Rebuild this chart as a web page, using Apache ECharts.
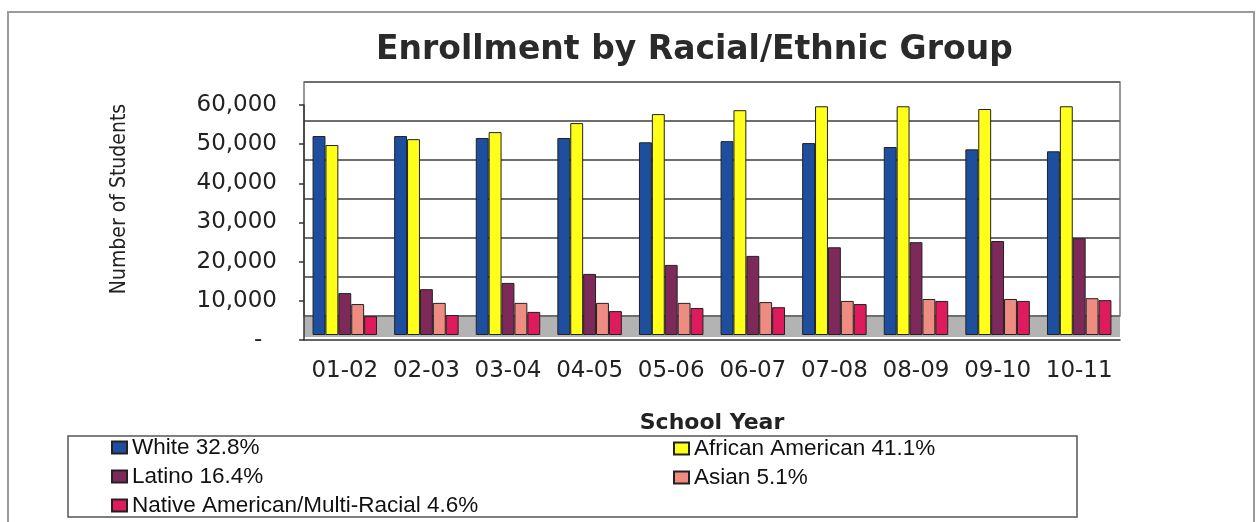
<!DOCTYPE html>
<html><head><meta charset="utf-8">
<script src="https://cdn.jsdelivr.net/npm/echarts@6/dist/echarts.min.js"></script>
<style>html,body{margin:0;padding:0;background:#fff}#c{width:1260px;height:522px}</style>
</head><body><div id="c"></div>
<script>
// ---- data ----
const years = ['01-02','02-03','03-04','04-05','05-06','06-07','07-08','08-09','09-10','10-11'];
const groups = ['White','African American','Latino','Asian','Native American/Multi-Racial'];
const shares = ['32.8%','41.1%','16.4%','5.1%','4.6%'];
const white    = [50800,50800,50300,50300,49200,49500,49000,48000,47400,46900];
const african  = [48500,50000,51800,54100,56400,57400,58400,58400,57700,58400];
const latino   = [10700,11700,13300,15600,17900,20200,22400,23700,24000,24700];
const asian    = [7900,8200,8200,8200,8200,8400,8700,9200,9200,9400];
const native   = [4800,5100,5900,6100,6900,7100,7900,8700,8700,8900];
const yTicks   = [0,10000,20000,30000,40000,50000,60000];

const values = [white, african, latino, asian, native];
const colors = ['#1d4f9e','#ffff1a','#7d2a5a','#ef8c82','#de1b5c'];
const names = groups.map((g,i)=>g+' '+shares[i]);

const chart = echarts.init(document.getElementById('c'));
const L = 304, R = 140;
const yMin = yTicks[0], yMax = yTicks[yTicks.length-1], yStep = yTicks[1]-yTicks[0];
const fmt = v => v === 0 ? '-  ' : String(v).replace(/\B(?=(\d{3})+(?!\d))/g, ',');
const txt = '#222';

const option = {
  animation: false,
  backgroundColor: '#fff',
  title: {
    text: 'Enrollment by Racial/Ethnic Group',
    left: 371, top: 29,
    textStyle: {fontFamily: 'DejaVu Sans', fontWeight: 'bold', fontSize: 33, color: '#2a2a2a'}
  },
  graphic: [{
    type: 'rect', silent: true, z: -10,
    shape: {x: 8, y: 12, width: 1246, height: 530},
    style: {fill: 'none', stroke: '#9a9a9a', lineWidth: 2}
  }],
  grid: [
    {left: L, right: R, top: 82, bottom: 522-316, show: true, borderColor: '#777', borderWidth: 1.5, backgroundColor: '#fff'},
    {left: L, right: R, top: 316, bottom: 522-337, show: true, backgroundColor: '#b3b3b3', borderWidth: 0},
    {left: L, right: R, top: 105, bottom: 522-340},
    {left: L, right: R, top: 100, bottom: 522-335}
  ],
  xAxis: [
    {gridIndex: 0, type: 'category', data: years, show: false},
    {gridIndex: 1, type: 'category', data: years, show: false},
    {gridIndex: 2, type: 'category', data: years,
      axisLine: {lineStyle: {color: '#333', width: 1.5}},
      axisTick: {length: 7, lineStyle: {color: '#333', width: 1.5}},
      axisLabel: {interval: 0, margin: 20, fontFamily: 'DejaVu Sans', fontSize: 23, color: txt},
      name: 'School Year', nameLocation: 'middle', nameGap: 72,
      nameTextStyle: {fontFamily: 'DejaVu Sans', fontWeight: 'bold', fontSize: 22, color: txt}
    },
    {gridIndex: 3, type: 'category', data: years, show: false}
  ],
  yAxis: [
    {gridIndex: 0, type: 'value', min: yMin, max: yMax, interval: yStep,
      axisLabel: {show: false}, axisLine: {show: false}, axisTick: {show: false},
      splitLine: {lineStyle: {color: '#6e6e6e', width: 2}},
      name: 'Number of Students', nameLocation: 'middle', nameRotate: 90, nameGap: 174,
      nameTextStyle: {fontFamily: "'Liberation Sans Narrow', 'Arial Narrow', 'DejaVu Sans Condensed', 'Roboto Condensed', 'Liberation Sans', sans-serif", fontSize: 21, color: txt}
    },
    {gridIndex: 1, type: 'value', show: false},
    {gridIndex: 2, type: 'value', min: yMin, max: yMax, interval: yStep,
      splitLine: {show: false},
      axisLine: {show: true, lineStyle: {color: '#333', width: 1.5}},
      axisTick: {show: true, length: 5, lineStyle: {color: '#333', width: 1.5}},
      axisLabel: {margin: 27, formatter: fmt, fontFamily: 'DejaVu Sans', fontSize: 23, color: txt}
    },
    {gridIndex: 3, type: 'value', min: yMin, max: yMax, show: false}
  ],
  legend: [
    {data: [names[0], names[2], names[4]], orient: 'vertical', left: 68, top: 436,
      padding: [0, 46, 0, 43], itemGap: 6, itemWidth: 15, itemHeight: 12, icon: 'rect',
      borderColor: '#555', borderWidth: 1.5, backgroundColor: '#fff',
      textStyle: {fontFamily: 'Liberation Sans', fontSize: 22.5, color: '#111', width: 899, lineHeight: 23}
    },
    {data: [names[1], names[3]], orient: 'vertical', left: 673, top: 437,
      padding: 0, itemGap: 6, itemWidth: 15, itemHeight: 12, icon: 'rect',
      textStyle: {fontFamily: 'Liberation Sans', fontSize: 22.5, color: '#111', lineHeight: 23}
    }
  ],
  series: values.map((d, i) => ({
    name: names[i], type: 'bar', xAxisIndex: 3, yAxisIndex: 3, data: d,
    barGap: '0%', barCategoryGap: '21%',
    itemStyle: {color: colors[i], borderColor: '#222', borderWidth: 1}
  }))
};
chart.setOption(option);
</script></body></html>
